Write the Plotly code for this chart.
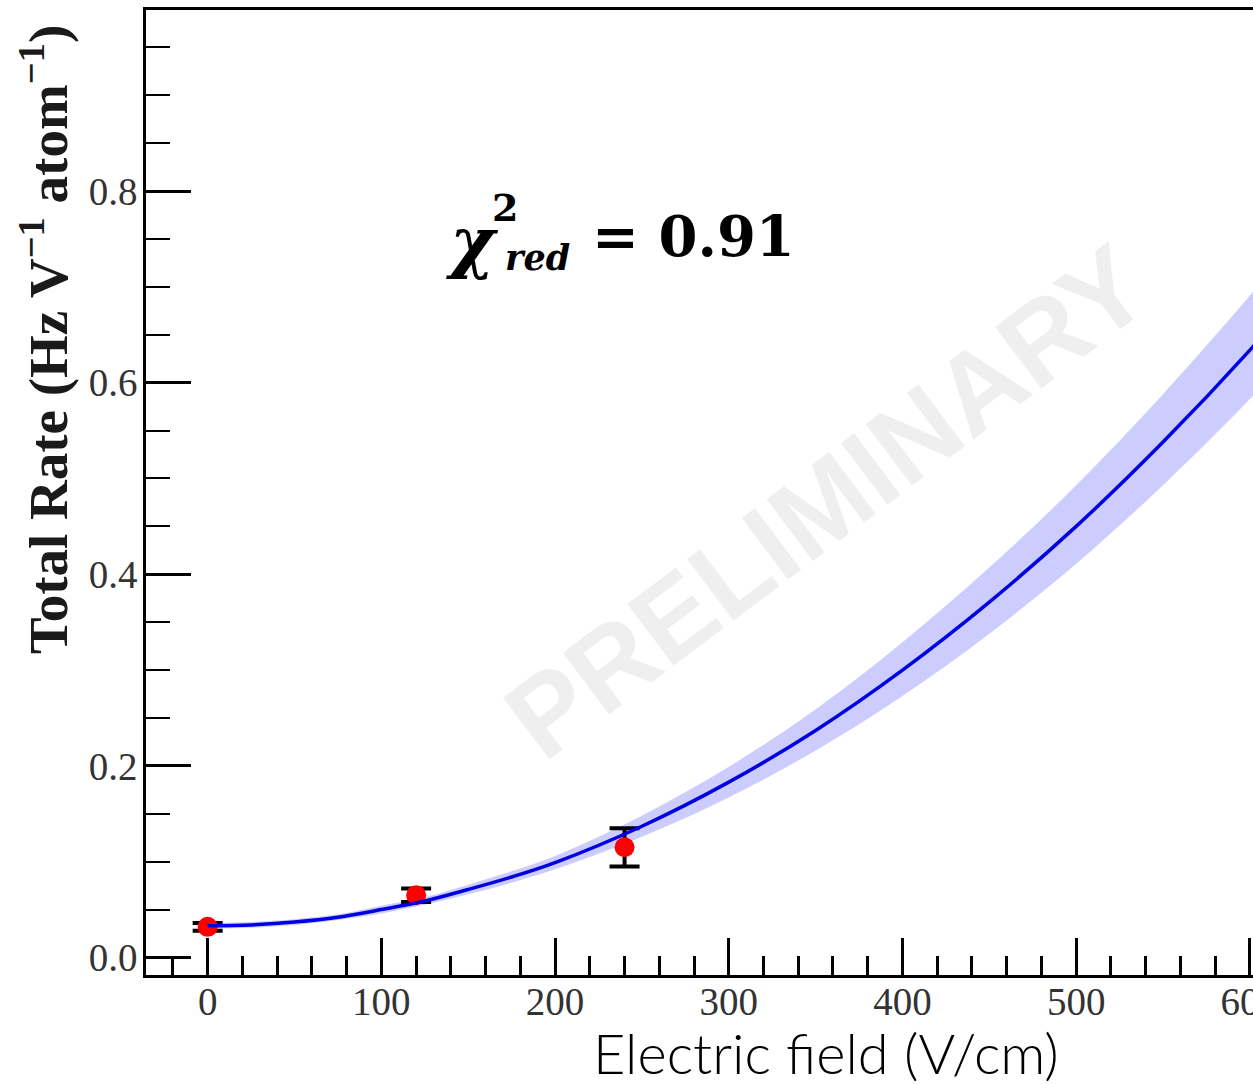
import plotly.graph_objects as go

# Measured rates
field = [0, 120, 240]
rate = [0.032, 0.065, 0.115]
rate_err = [0.004, 0.007, 0.020]

# Fitted model curve and its confidence band
fit_field = [0, 25, 50, 75, 100, 125, 150, 175, 200, 250, 300, 350, 400, 450, 500, 550, 600, 610]
fit_rate = [0.033, 0.034, 0.037, 0.042, 0.050, 0.059, 0.071, 0.084, 0.099, 0.137, 0.183,
            0.237, 0.300, 0.371, 0.450, 0.538, 0.634, 0.655]
fit_upper = [0.036, 0.037, 0.040, 0.045, 0.054, 0.063, 0.076, 0.090, 0.106, 0.148, 0.199,
             0.259, 0.329, 0.407, 0.493, 0.588, 0.691, 0.713]
fit_lower = [0.030, 0.031, 0.034, 0.039, 0.046, 0.055, 0.066, 0.078, 0.092, 0.126, 0.167,
             0.216, 0.273, 0.338, 0.411, 0.493, 0.583, 0.603]

x_ticks = [0, 100, 200, 300, 400, 500, 600]
y_ticks = [0.0, 0.2, 0.4, 0.6, 0.8]

W, H = 1253, 1084
L, R, T, B = 146, 0, 10, 109

def px(xp):
    return (xp - L) / (W - L - R)

def py(yp):
    return (H - B - yp) / (H - T - B)

fig = go.Figure()

fig.add_trace(go.Scatter(x=fit_field, y=fit_lower, mode="lines", line_shape="spline",
                         line=dict(width=0), hoverinfo="skip", showlegend=False))
fig.add_trace(go.Scatter(x=fit_field, y=fit_upper, mode="lines", line_shape="spline",
                         fill="tonexty", fillcolor="rgba(0,0,255,0.2)", line=dict(width=0),
                         hoverinfo="skip", showlegend=False))

fig.add_trace(go.Scatter(
    x=field, y=rate, mode="markers",
    marker=dict(color="#ff0000", size=20),
    error_y=dict(type="data", array=rate_err, color="black", thickness=4, width=15),
    showlegend=False))

fig.add_trace(go.Scatter(x=fit_field, y=fit_rate, mode="lines", line_shape="spline",
                         line=dict(color="#0000e0", width=3.5), showlegend=False))

serif = "Liberation Serif, Times New Roman, serif"

fig.update_xaxes(
    range=[-35.5, 601.8], tickvals=x_ticks, ticktext=[str(v) for v in x_ticks],
    ticks="inside", ticklen=37, tickwidth=3, tickcolor="black",
    minor=dict(dtick=20, tick0=0, ticks="inside", ticklen=19, tickwidth=2.5, tickcolor="black"),
    showline=True, linecolor="black", linewidth=2.5, mirror=True,
    showgrid=False, zeroline=False, automargin=False,
    tickfont=dict(family=serif, size=39, color="#333333"),
    ticklabelstandoff=-10, ticklabeloverflow="allow",
)
fig.update_yaxes(
    range=[-0.0183, 0.989], tickvals=y_ticks, ticktext=["0.0", "0.2", "0.4", "0.6", "0.8"],
    ticks="inside", ticklen=45, tickwidth=2.5, tickcolor="black",
    minor=dict(dtick=0.05, tick0=0, ticks="inside", ticklen=24, tickwidth=2, tickcolor="black"),
    showline=True, linecolor="black", linewidth=2.5, mirror=False,
    showgrid=False, zeroline=False, automargin=False,
    tickfont=dict(family=serif, size=39, color="#333333"),
    ticklabelstandoff=-2,
)

def note(xp, yp, text, font, angle=0):
    return dict(x=px(xp), y=py(yp), xref="paper", yref="paper", text=text,
                textangle=angle, showarrow=False, xanchor="center", yanchor="middle",
                font=font)

annotations = [
    # watermark
    note(826, 502, "PRELIMINARY",
         dict(family="Liberation Sans, Arial, sans-serif", size=112, color="#efefef",
              weight="bold"), angle=-37),
    # y-axis title
    note(44, 340, "<b>Total Rate (Hz V<sup>−1</sup> atom<sup>−1</sup>)</b>",
         dict(family=serif, size=55, color="#1a1a1a"), angle=-90),
    # x-axis title
    note(826, 1052, "Electric field (V/cm)",
         dict(family="Lato, Open Sans, sans-serif", size=56, color="black", weight=300)),
    # reduced chi-square
    note(472, 241, "<b><i>χ</i></b>", dict(family="DejaVu Serif", size=68, color="black")),
    note(505, 208, "<b>2</b>", dict(family="DejaVu Serif", size=38, color="black")),
    note(537, 257, "<b><i>red</i></b>", dict(family="DejaVu Serif", size=35, color="black")),
    note(693, 236, "<b>= 0.91</b>", dict(family="DejaVu Serif", size=56, color="black")),
]

fig.update_layout(
    width=W, height=H,
    margin=dict(l=L, r=R, t=T, b=B),
    plot_bgcolor="white", paper_bgcolor="white",
    annotations=annotations,
    showlegend=False,
)

fig.write_html("out.html")
